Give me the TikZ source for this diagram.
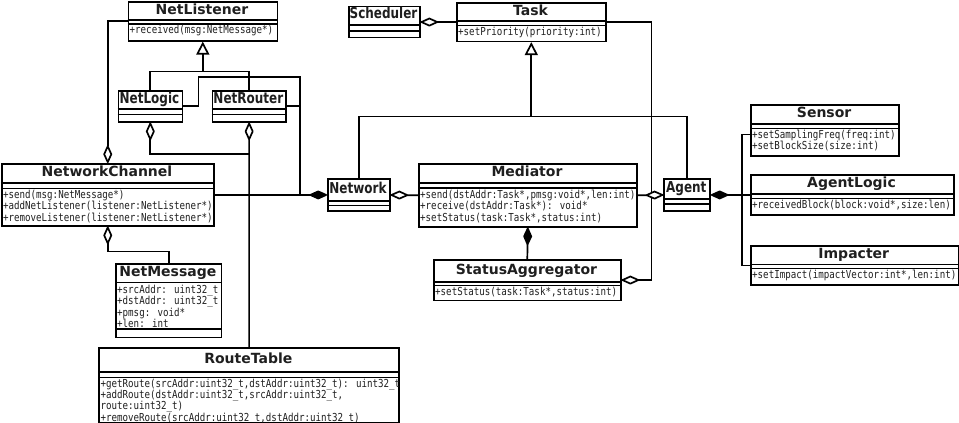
\documentclass[tikz,border=0pt]{standalone}
\usepackage{fontspec}
\usetikzlibrary{arrows.meta,calc}
\newfontfamily\monof{DejaVu Sans Mono}[FakeStretch=0.833]
\newfontfamily\ttlf{DejaVu Sans}
\newfontfamily\sttlf{DejaVu Sans}[FakeStretch=0.8]
\newcommand\bigT{\ttlf\bfseries\fontsize{14}{16}\selectfont}
\newcommand\smT{\sttlf\bfseries\fontsize{15}{17}\selectfont}
\newcommand\rows[2][1]{\def\arraystretch{#1}\begin{tabular}[t]{@{}l@{}}#2\end{tabular}}
\tikzset{
  cls/.style={draw=black, line width=1.6pt, fill=white, rectangle, inner sep=0pt, anchor=north west},
  sep/.style={draw=black, line width=1.3pt},
  ttl/.style={anchor=base, inner sep=0pt, font=\bigT, text=black!88},
  body/.style={anchor=base west, inner sep=0pt, font=\monof\fontsize{11}{10.8}\selectfont, text=black!88},
  conn/.style={draw=black, line width=1.7pt},
  inh/.style={conn, -{Triangle[length=13pt,width=13pt,fill=white]}},
  aggr/.style={conn, -{Diamond[length=20pt,width=9pt,fill=white,round]}},
  comp/.style={conn, -{Diamond[length=20pt,width=9pt,round]}},
}
\newcommand\umlclass[9]{%
  \node[cls, minimum width={#4pt-#2pt}, minimum height={#5pt-#3pt}] (#1) at (#2,#3) {};
  \draw[sep] (#2,#6) -- (#4,#6);
  \draw[sep] (#2,#7) -- (#4,#7);
  \node[ttl] (#1-title) at ({(#2+#4)/2},{(#3+#6)/2+3.7}) {#8};
  \node[body] (#1-body) at ({#2+2},{#7+10}) {#9};
}
\begin{document}
\begin{tikzpicture}[x=1pt,y=-1pt]
\useasboundingbox (0,0) rectangle (959,423);
% ---- classes ----
\umlclass{NetListener}{127.5}{1}{276.5}{40}{20}{24}{NetListener}{\rows{+received(msg:NetMessage*)}}
\umlclass{Task}{456}{2}{605}{40.5}{21}{25.5}{Task}{\rows{+setPriority(priority:int)}}
\umlclass{Scheduler}{348}{5.5}{419}{36.7}{25}{31}{\smT Scheduler}{}
\umlclass{NetLogic}{117.5}{90}{181.5}{121}{109}{114.5}{\smT NetLogic}{}
\umlclass{NetRouter}{211.7}{90}{285}{121}{109}{114.5}{\smT NetRouter}{}
\umlclass{Network}{327}{178.3}{389}{210}{201}{205.5}{\smT Network}{}
\umlclass{Agent}{663.3}{178.3}{709.3}{210}{199}{204}{\smT Agent}{}
\umlclass{NetworkChannel}{0.9}{163}{213}{225}{183}{188.3}{NetworkChannel}{\rows{+send(msg:NetMessage*)\\+addNetListener(listener:NetListener*)\\+removeListener(listener:NetListener*)}}
\umlclass{NetMessage}{115}{263.3}{220.7}{336.7}{282.7}{329}{NetMessage}{}
\node[body] (NetMessage-attrs) at (117,293) {\rows{+srcAddr: uint32\_t\\+dstAddr: uint32\_t\\+pmsg: void*\\+len: int}};
\umlclass{RouteTable}{98.3}{347}{398.3}{421.5}{372}{377.3}{RouteTable}{\rows[0.907]{+getRoute(srcAddr:uint32\_t,dstAddr:uint32\_t): uint32\_t\\+addRoute(dstAddr:uint32\_t,srcAddr:uint32\_t,\\route:uint32\_t)\\+removeRoute(srcAddr:uint32\_t,dstAddr:uint32\_t)}}
\umlclass{Mediator}{418}{163}{636}{226}{183}{188}{Mediator}{\rows{+send(dstAddr:Task*,pmsg:void*,len:int)\\+receive(dstAddr:Task*): void*\\+setStatus(task:Task*,status:int)}}
\umlclass{StatusAggregator}{433}{259}{620}{299.5}{282}{285.5}{StatusAggregator}{\rows{+setStatus(task:Task*,status:int)}}
\umlclass{Sensor}{750}{104.3}{898.3}{155}{124}{128.3}{Sensor}{\rows{+setSamplingFreq(freq:int)\\+setBlockSize(size:int)}}
\umlclass{AgentLogic}{750}{174.3}{953}{214}{194}{198.7}{AgentLogic}{\rows{+receivedBlock(block:void*,size:len)}}
\umlclass{Impacter}{750}{245}{957.5}{284.3}{264.5}{268.5}{Impacter}{\rows{+setImpact(impactVector:int*,len:int)}}
% ---- helper points ----
\coordinate (gNL) at ($(NetListener.south)+(0,30)$);
\coordinate (gT) at ($(Task.south)+(0,74.5)$);
\coordinate (jN) at ($(Network.west)+(-27,0)$);
\coordinate (bus) at ($(Agent.east)+(31,0)$);
% ---- generalizations ----
\draw[conn] (NetLogic.north) |- (gNL) -| (NetRouter.north);
\draw[inh] (gNL) -- (NetListener.south);
\draw[conn] (Network.north) |- (gT) -| (Agent.north);
\draw[inh] (gT) -- (Task.south);
% ---- compositions into Network ----
\draw[comp] (NetworkChannel.east |- Network.west) -- (Network.west);
\draw[conn] (NetLogic.east) -- ++(15.5,0) |- (jN |- 0,77) -- (jN);
\draw[conn] (NetRouter.east) -- (NetRouter.east -| jN);
% ---- aggregations ----
\draw[aggr] (NetListener.west) -| (NetworkChannel.north);
\draw[aggr] (NetMessage.north) |- ($(NetworkChannel.south)+(0,25)$) -- (NetworkChannel.south);
\draw[aggr] (RouteTable.north) -- (NetRouter.south);
\draw[aggr] (RouteTable.north |- 0,154) -| (NetLogic.south);
\draw[aggr] (Task.west) -- (Task.west -| Scheduler.east);
\draw[aggr] (Task.east) -- ++(45,0) |- (StatusAggregator.east);
\draw[aggr] (Mediator.west) -- (Network.east);
\draw[aggr] (Mediator.east) -- (Agent.west);
\draw[comp] (StatusAggregator.north) -- (Mediator.south);
% ---- Agent parts ----
\draw[comp] (AgentLogic.west) -- (Agent.east);
\draw[conn] ([yshift=-4pt]Sensor.west) -| (bus) |- (Impacter.west);
\end{tikzpicture}
\end{document}
